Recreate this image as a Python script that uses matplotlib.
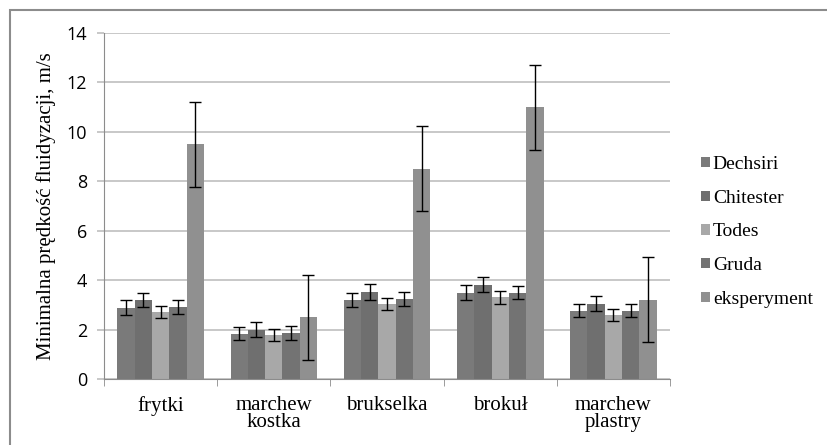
import numpy as np
import matplotlib
matplotlib.use("Agg")
import matplotlib.pyplot as plt
from matplotlib.patches import Rectangle
from matplotlib.font_manager import FontProperties

categories = ["frytki", "marchew\nkostka", "brukselka", "brokuł", "marchew\nplastry"]
series_names = ["Dechsiri", "Chitester", "Todes", "Gruda", "eksperyment"]

dechsiri = [2.88, 1.83, 3.2, 3.5, 2.77]
chitester = [3.2, 2.0, 3.52, 3.82, 3.05]
todes = [2.72, 1.78, 3.03, 3.3, 2.6]
gruda = [2.92, 1.87, 3.23, 3.5, 2.77]
eksperyment = [9.5, 2.5, 8.5, 11.0, 3.2]

dechsiri_err = [0.3, 0.27, 0.3, 0.3, 0.27]
chitester_err = [0.3, 0.3, 0.32, 0.3, 0.3]
todes_err = [0.25, 0.25, 0.25, 0.25, 0.25]
gruda_err = [0.27, 0.28, 0.28, 0.28, 0.28]
eksperyment_err = [1.72, 1.72, 1.72, 1.72, 1.72]

values = [dechsiri, chitester, todes, gruda, eksperyment]
errors = [dechsiri_err, chitester_err, todes_err, gruda_err, eksperyment_err]
colors = ["#7a7a7a", "#6f6f6f", "#a8a8a8", "#737373", "#909090"]

serif = "Liberation Serif"
sans = "Open Sans"

fig = plt.figure(figsize=(8.28, 4.45), dpi=100)
ax = fig.add_axes([0.1256, 0.1483, 0.6836, 0.7775])

# outer frame like the Excel chart area
fig.patches.append(Rectangle((10 / 828, -0.05), 1.1, 1 - 10 / 445 + 0.05,
                             transform=fig.transFigure, fill=False,
                             edgecolor="#8c8c8c", linewidth=1.5))

x = np.arange(len(categories))
bar_w = 0.153
for i, (name, vals, errs, col) in enumerate(zip(series_names, values, errors, colors)):
    offs = (i - 2) * bar_w
    ax.bar(x + offs, vals, bar_w, color=col, label=name, zorder=2)
    ax.errorbar(x + offs, vals, yerr=errs, fmt="none", ecolor="black",
                elinewidth=1, capsize=4.5, capthick=1, zorder=3)

ax.set_xlim(-0.5, len(categories) - 0.5)
ax.set_ylim(0, 14)
ax.set_yticks(range(0, 15, 2))
ax.yaxis.grid(True, color="#bfbfbf", linewidth=1.2, zorder=0)
ax.set_axisbelow(True)

ax.set_xticks(x)
ax.set_xticklabels(categories, fontfamily=serif, fontsize=15, linespacing=0.9)
ax.set_xticks(np.arange(-0.5, len(categories)), minor=True)
ax.tick_params(axis="x", which="major", length=0, pad=12)
ax.tick_params(axis="x", which="minor", length=5, color="#8c8c8c", direction="out")
ax.tick_params(axis="y", length=5, color="#bfbfbf", width=1.2, labelsize=13, pad=7)
for lab in ax.get_yticklabels():
    lab.set_fontfamily(sans)

for s in ["top", "right"]:
    ax.spines[s].set_visible(False)
ax.spines["left"].set_color("#8c8c8c")
ax.spines["bottom"].set_color("#8c8c8c")

ax.set_ylabel("Minimalna prędkość fluidyzacji, m/s", fontfamily=serif, fontsize=15, labelpad=8)

ax.legend(loc="center left", bbox_to_anchor=(1.024, 0.425), frameon=False,
          prop=FontProperties(family=serif, size=14), handlelength=0.45, handleheight=0.45,
          handletextpad=0.15, labelspacing=0.86)

fig.savefig("out.png", dpi=100)
